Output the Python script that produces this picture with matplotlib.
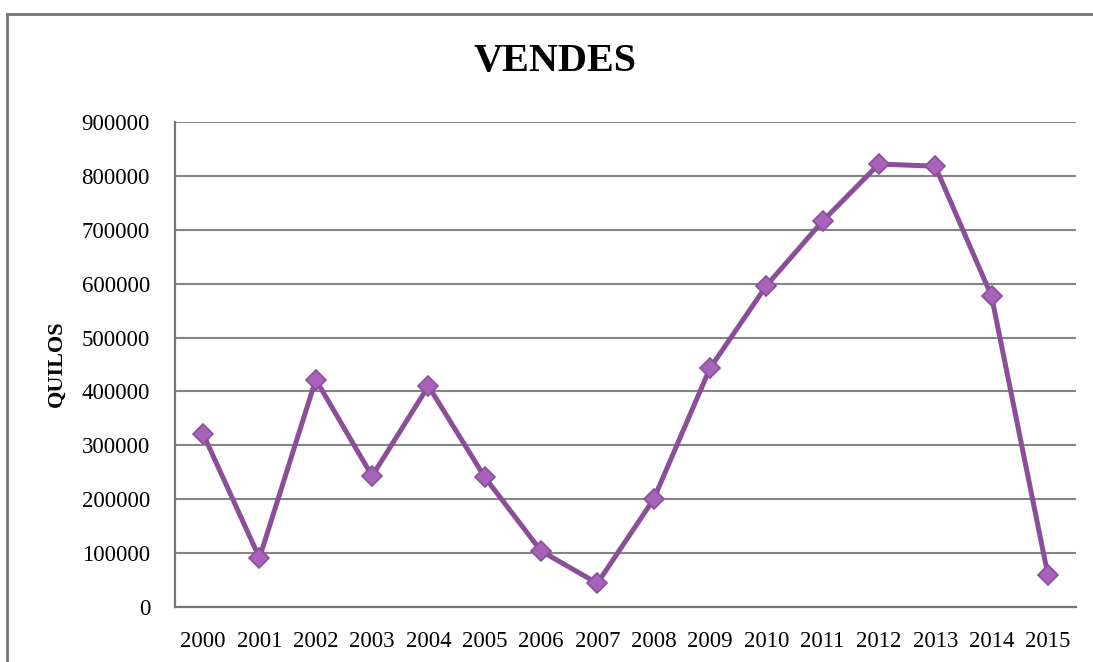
import matplotlib
matplotlib.use("Agg")
import matplotlib.pyplot as plt
from matplotlib.lines import Line2D

years = ["2000", "2001", "2002", "2003", "2004", "2005", "2006", "2007",
         "2008", "2009", "2010", "2011", "2012", "2013", "2014", "2015"]
quilos = [321000, 91000, 422000, 243000, 410000, 241000, 104000, 44000,
          200000, 443000, 596000, 716000, 822000, 818000, 577000, 60000]
yticks = [0, 100000, 200000, 300000, 400000, 500000, 600000, 700000, 800000, 900000]

plt.rcParams['font.family'] = ['Liberation Serif', 'DejaVu Serif']

W, H = 1093, 662
fig = plt.figure(figsize=(W / 100, H / 100), dpi=100)
ax = fig.add_axes([175 / W, 1 - 607 / H, (1076 - 175) / W, (607 - 122) / H])

x = list(range(len(years)))
ax.plot(x, quilos, color="#8B4E98", linewidth=3.6, marker="D", markersize=10,
        markerfacecolor="#A862B9", markeredgecolor="#8B4E98", markeredgewidth=1.2,
        solid_joinstyle="round", zorder=3)

ax.set_xlim(-0.5, len(years) - 0.5)
ax.set_ylim(0, 900000)
ax.set_yticks(yticks)
ax.set_yticklabels([str(v) for v in yticks], fontsize=16.5)
ax.set_xticks(x)
ax.set_xticklabels(years, fontsize=16.5)
ax.tick_params(axis="y", length=0, pad=18)
ax.tick_params(axis="x", length=0, pad=17)

ax.grid(axis="y", color="#858585", linewidth=1.5)
ax.set_axisbelow(True)
for s in ["top", "right"]:
    ax.spines[s].set_visible(False)
for s in ["left", "bottom"]:
    ax.spines[s].set_color("#767676")
    ax.spines[s].set_linewidth(1.6)

fig.text(555 / W, 1 - 61 / H, "VENDES", fontsize=29, fontweight="bold",
         ha="center", va="center")
fig.text(57 / W, 1 - 364 / H, "QUILOS", fontsize=16, fontweight="bold",
         ha="center", va="center", rotation=90)

# outer chart border (top and left visible)
fig.add_artist(Line2D([7 / W, 1.0], [1 - 14 / H, 1 - 14 / H], transform=fig.transFigure,
                      color="#767676", linewidth=2))
fig.add_artist(Line2D([7 / W, 7 / W], [0.0, 1 - 14 / H], transform=fig.transFigure,
                      color="#767676", linewidth=2))

fig.savefig("out.png", dpi=100, facecolor="white")
